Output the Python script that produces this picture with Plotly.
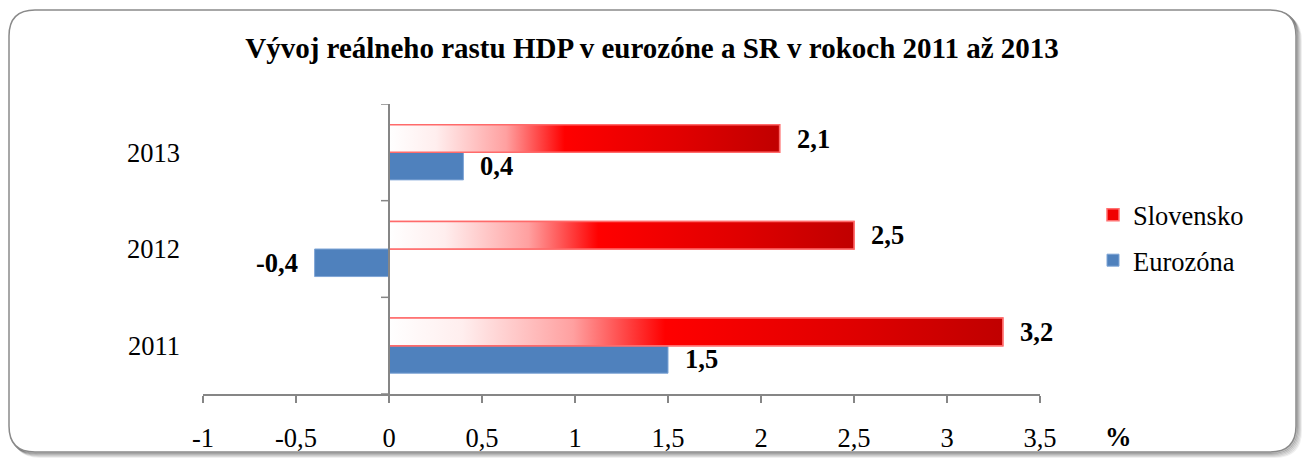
import plotly.graph_objects as go

# ---------------- data ----------------
years = ["2011", "2012", "2013"]
slovensko = [3.3, 2.5, 2.1]
eurozona = [1.5, -0.4, 0.4]
slovensko_labels = ["3,2", "2,5", "2,1"]
eurozona_labels = ["1,5", "-0,4", "0,4"]
x_ticks = [-1, -0.5, 0, 0.5, 1, 1.5, 2, 2.5, 3, 3.5]
title = "Vývoj reálneho rastu HDP v eurozóne a SR v rokoch 2011 až 2013"
unit = "%"

# ---------------- styling ----------------
W, H = 1304, 459
ML, MR, MT, MB = 203, 264, 104, 65
PW, PH = W - ML - MR, H - MT - MB
FONT = "Liberation Serif"
FS = 26.5
BAR_W = 0.285
AXIS_COLOR = "#868686"
BLUE = "#4F81BD"
RED_SCALE = [[0, "#FFFFFF"], [0.12, "#FFEEEE"], [0.3, "#FFA0A0"],
             [0.45, "#FF0000"], [0.75, "#E00000"], [1, "#C00000"]]


def px(x):
    return (x - ML) / PW


def py(y):
    return (H - MB - y) / PH


def fmt(v):
    return ("%g" % v).replace(".", ",")


pos = list(range(len(years)))

fig = go.Figure()

fig.add_trace(go.Bar(
    name="Eurozóna", orientation="h", x=eurozona, y=pos,
    width=BAR_W, offset=-BAR_W,
    marker=dict(color=BLUE, line=dict(color="#7FA5D6", width=1)),
    hoverinfo="skip", legendgroup="e", legendrank=2,
))

fig.add_trace(go.Bar(
    name="Slovensko", orientation="h", x=slovensko, y=pos,
    width=BAR_W, offset=0,
    marker=dict(color="#F00000", line=dict(color="#FF7070", width=1.5)),
    hoverinfo="skip", legendgroup="s", legendrank=1,
))

for p, v in zip(pos, slovensko):
    fig.add_trace(go.Scatter(
        x=[0, v, v, 0, 0], y=[p, p, p + BAR_W, p + BAR_W, p],
        mode="lines", fill="toself",
        fillgradient=dict(type="horizontal", colorscale=RED_SCALE, start=0, stop=v),
        line=dict(color="#FF6A6A", width=1.5),
        showlegend=False, hoverinfo="skip",
    ))

label_font = dict(family=FONT, size=FS, color="black", weight="bold")
annotations = []
for p, v, t in zip(pos, slovensko, slovensko_labels):
    annotations.append(dict(x=v, y=p + BAR_W / 2, xref="x", yref="y", text=t,
                            showarrow=False, xanchor="left", yanchor="middle",
                            xshift=15, font=label_font))
for p, v, t in zip(pos, eurozona, eurozona_labels):
    annotations.append(dict(x=v, y=p - BAR_W / 2, xref="x", yref="y", text=t,
                            showarrow=False, xanchor="left" if v >= 0 else "right", yanchor="middle",
                            xshift=15 if v >= 0 else -15, font=label_font))
annotations.append(dict(x=px(1118), y=py(437), xref="paper", yref="paper", text=unit,
                        showarrow=False, xanchor="center", yanchor="middle", font=label_font))

shapes = []


def rounded_rect(x0, y0, x1, y1, r):
    return (f"M {px(x0 + r)} {py(y0)} L {px(x1 - r)} {py(y0)} "
            f"Q {px(x1)} {py(y0)} {px(x1)} {py(y0 + r)} "
            f"L {px(x1)} {py(y1 - r)} Q {px(x1)} {py(y1)} {px(x1 - r)} {py(y1)} "
            f"L {px(x0 + r)} {py(y1)} Q {px(x0)} {py(y1)} {px(x0)} {py(y1 - r)} "
            f"L {px(x0)} {py(y0 + r)} Q {px(x0)} {py(y0)} {px(x0 + r)} {py(y0)} Z")


for i, a in zip(range(5, 0, -1), [0.06, 0.09, 0.13, 0.17, 0.22]):
    shapes.append(dict(type="path", xref="paper", yref="paper",
                       path=rounded_rect(9 + i, 10 + i, 1296 + i, 452 + i, 26),
                       line=dict(color=f"rgba(0,0,0,{a})", width=2), layer="below"))
shapes.append(dict(type="path", xref="paper", yref="paper",
                   path=rounded_rect(9, 10, 1296, 452, 26),
                   line=dict(color="#8A8A8A", width=1.5), fillcolor="white", layer="below"))

n = len(years)
shapes.append(dict(type="line", xref="x", yref="y", x0=0, x1=0, y0=-0.5, y1=n - 0.5,
                   line=dict(color=AXIS_COLOR, width=2), layer="above"))
for b in range(n + 1):
    shapes.append(dict(type="line", xref="x", yref="y", xsizemode="pixel", xanchor=0,
                       x0=-8, x1=0, y0=b - 0.5, y1=b - 0.5,
                       line=dict(color=AXIS_COLOR, width=1.5), layer="above"))

fig.update_layout(
    width=W, height=H,
    margin=dict(l=ML, r=MR, t=MT, b=MB, autoexpand=False),
    paper_bgcolor="rgba(0,0,0,0)", plot_bgcolor="rgba(0,0,0,0)",
    barmode="overlay",
    title=dict(text=f"<b>{title}</b>", xref="container", x=0.5, xanchor="center",
               yref="container", y=1 - 48 / H, yanchor="middle",
               font=dict(family=FONT, size=29, color="black")),
    xaxis=dict(range=[-1, 3.5], tickvals=x_ticks, ticktext=[fmt(v) for v in x_ticks],
               showgrid=False, zeroline=False, showline=True, linecolor=AXIS_COLOR, linewidth=2,
               ticks="outside", ticklen=7, tickwidth=1.5, tickcolor=AXIS_COLOR,
               ticklabelstandoff=12,
               tickfont=dict(family=FONT, size=FS, color="black"), fixedrange=True),
    yaxis=dict(range=[-0.5, n - 0.5], tickvals=pos, ticktext=years,
               showgrid=False, zeroline=False, showline=False, ticks="",
               ticklabelstandoff=22,
               tickfont=dict(family=FONT, size=FS, color="black"), fixedrange=True),
    legend=dict(x=px(1093), y=py(191), xanchor="left", yanchor="top",
                traceorder="grouped", tracegroupgap=8,
                font=dict(family=FONT, size=FS, color="black"),
                bgcolor="rgba(0,0,0,0)"),
    annotations=annotations,
    shapes=shapes,
    showlegend=True,
)

fig.write_html("out.html", config={"displayModeBar": False},
               post_script="document.body.style.margin='0';document.body.style.overflow='hidden';")
